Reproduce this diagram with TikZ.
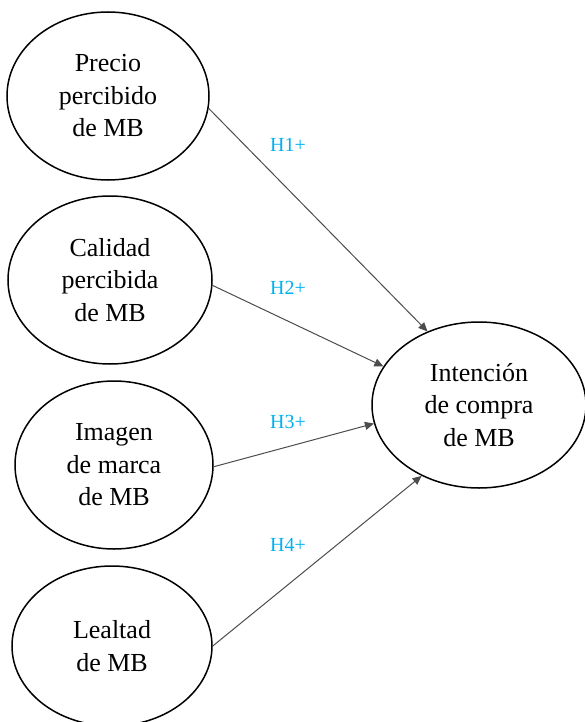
\documentclass[tikz,border=0pt]{standalone}
\usepackage{fontspec}
\setmainfont{Liberation Serif}
\usetikzlibrary{shapes.geometric, arrows.meta}
\definecolor{hypblue}{RGB}{0,176,240}
\begin{document}
\begin{tikzpicture}[x=1pt, y=-1pt, >={Triangle[length=9pt, width=8pt]}]
                \tikzset{construct/.style={draw, ellipse, line width=1.5pt, inner sep=0pt, align=center,
                        minimum width=202pt, minimum height=168pt, font=\fontsize{26}{32.5}\selectfont}}
                \tikzset{path/.style={->, draw=black!70, line width=1pt}}
                \tikzset{hyp/.style={text=hypblue, font=\fontsize{20}{22}\selectfont}}
                \useasboundingbox (0, 0) rectangle (584, 722);
                \node[construct] (precio) at (108, 96) {Precio\\percibido\\de MB};
                \node[construct, minimum width=204pt] (calidad) at (110, 280) {Calidad\\percibida\\de MB};
                \node[construct, minimum width=198pt] (imagen) at (114, 465) {Imagen\\de marca\\de MB};
                \node[construct, minimum width=200pt, minimum height=160pt] (lealtad) at (112, 646) {Lealtad\\de MB};
                \node[construct, minimum width=214pt, minimum height=166pt] (intencion) at (479, 405) {Intención\\de compra\\de MB};
                \node[hyp] (h1) at (288, 145) {H1+};
                \node[hyp] (h2) at (288, 288) {H2+};
                \node[hyp] (h3) at (288, 422) {H3+};
                \node[hyp] (h4) at (288, 545) {H4+};
                \draw[path] (precio.-7) -- (intencion.125);
                \draw[path] (calidad.-3) -- (intencion.158);
                \draw[path] (imagen.-1) -- (intencion.-170);
                \draw[path] (lealtad.0) -- (intencion.-129);
            \end{tikzpicture}
\end{document}
